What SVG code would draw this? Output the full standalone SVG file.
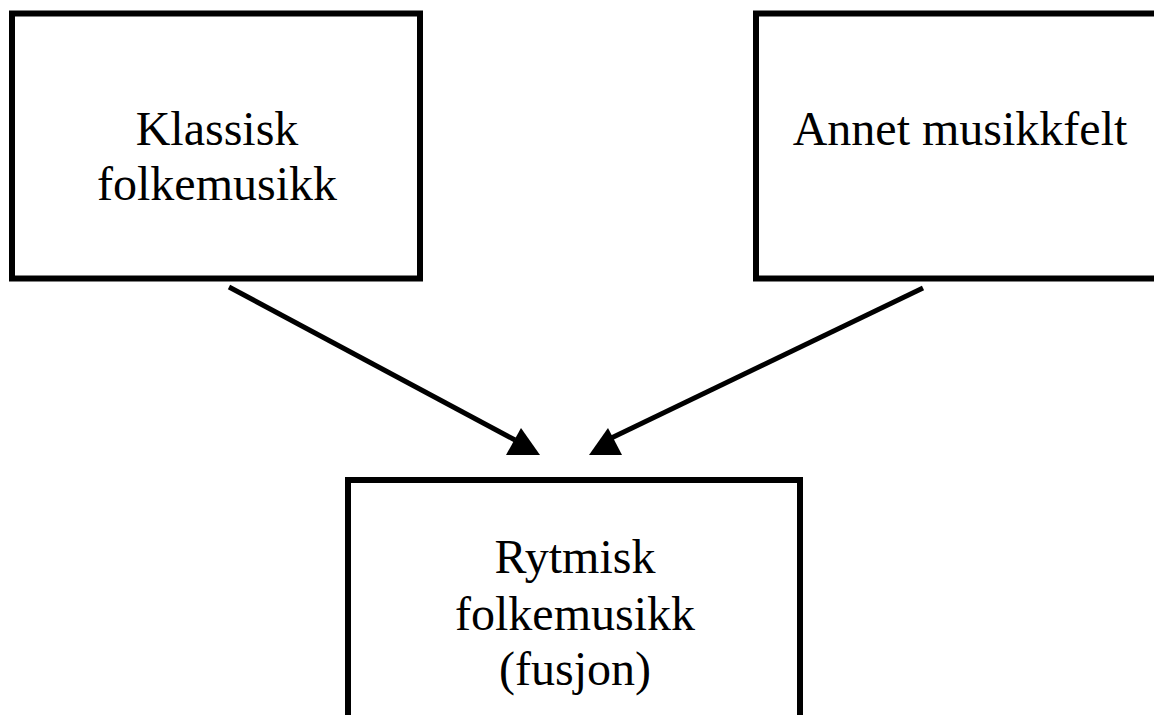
<svg xmlns="http://www.w3.org/2000/svg" width="1154" height="715" viewBox="0 0 1154 715">
<style>
.box{fill:#fff;stroke:#000;stroke-width:6}
.lbl{font-family:"Liberation Serif","Times New Roman",serif;font-size:48px;fill:#000;text-anchor:middle}
.edge{stroke:#000;stroke-width:5;fill:none}
.head{fill:#000;stroke:none}
</style>
<rect width="1154" height="715" fill="#fff"/>
<g id="node-klassisk">
<rect class="box" x="12" y="13.5" width="408" height="265"/>
<text class="lbl" x="217" y="145">Klassisk</text>
<text class="lbl" x="217" y="200">folkemusikk</text>
</g>
<g id="node-annet">
<rect class="box" x="756" y="13.5" width="420" height="265"/>
<text class="lbl" x="960" y="145">Annet musikkfelt</text>
</g>
<g id="node-rytmisk">
<rect class="box" x="348" y="480" width="452" height="260"/>
<text class="lbl" x="575" y="573">Rytmisk</text>
<text class="lbl" x="575" y="630">folkemusikk</text>
<text class="lbl" x="575" y="685">(fusjon)</text>
</g>
<g id="connectors">
<line class="edge" x1="229" y1="287" x2="515" y2="440"/>
<polygon class="head" points="521,428 540,455 506,455"/>
<line class="edge" x1="923" y1="288" x2="603" y2="442"/>
<polygon class="head" points="608,428 622,455 589,455"/>
</g>
</svg>
